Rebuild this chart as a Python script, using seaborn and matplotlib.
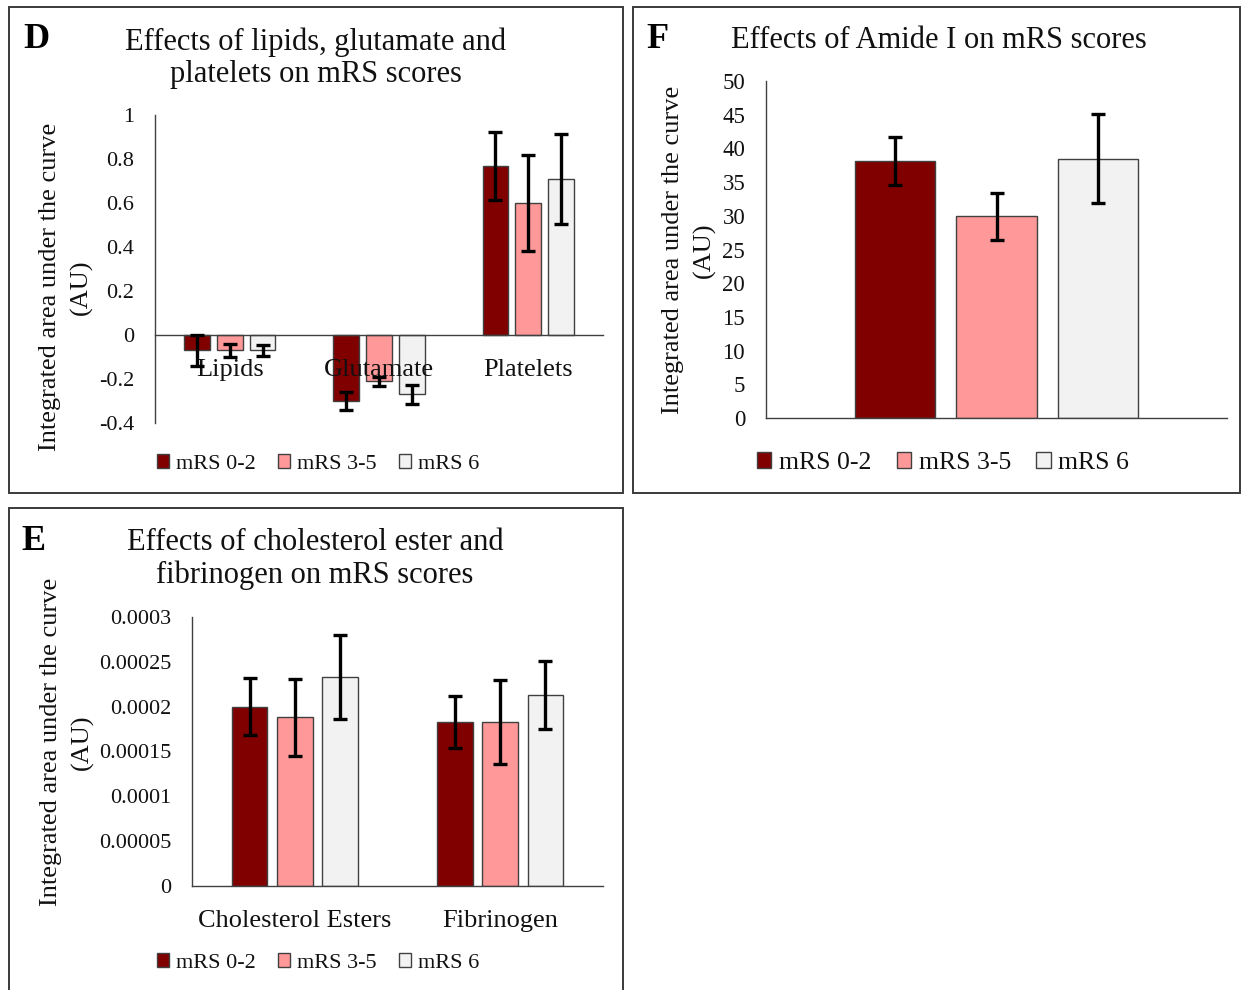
import numpy as np
import pandas as pd
import matplotlib
matplotlib.use("Agg")
import matplotlib.pyplot as plt
import seaborn as sns
from matplotlib.patches import Rectangle, Patch
from matplotlib.ticker import FuncFormatter, MultipleLocator

# ---------------- data ----------------
groups = ["mRS 0-2", "mRS 3-5", "mRS 6"]
group_colors = ["#800000", "#FF9999", "#F2F2F2"]

d_categories = ["Lipids", "Glutamate", "Platelets"]
d_mrs02 = [-0.07, -0.30, 0.77]
d_mrs02_err = [0.07, 0.04, 0.155]
d_mrs35 = [-0.07, -0.21, 0.60]
d_mrs35_err = [0.03, 0.02, 0.22]
d_mrs6 = [-0.07, -0.27, 0.71]
d_mrs6_err = [0.025, 0.045, 0.205]

f_categories = ["Amide I"]
f_mrs02 = [38.1]
f_mrs02_err = [3.6]
f_mrs35 = [29.9]
f_mrs35_err = [3.5]
f_mrs6 = [38.5]
f_mrs6_err = [6.6]

e_categories = ["Cholesterol Esters", "Fibrinogen"]
e_mrs02 = [0.000200, 0.000183]
e_mrs02_err = [0.000032, 0.000029]
e_mrs35 = [0.000188, 0.000183]
e_mrs35_err = [0.000043, 0.000047]
e_mrs6 = [0.000233, 0.000213]
e_mrs6_err = [0.000047, 0.000038]

d_title = "Effects of lipids, glutamate and\nplatelets on mRS scores"
f_title = "Effects of Amide I on mRS scores"
e_title = "Effects of cholesterol ester and\nfibrinogen on mRS scores"
ylabel = "Integrated area under the curve\n(AU)"

# ---------------- style ----------------
sns.set_style("white")
plt.rcParams["font.family"] = ["Liberation Serif", "DejaVu Serif"]
TXT = "#111111"
AXC = "#404040"

W, H = 1241, 990
fig = plt.figure(figsize=(W / 100, H / 100), dpi=100)


def fx(px):
    return px / W


def fy(py):
    return 1 - py / H


def make_df(cats, vals, errs):
    rows = []
    for g, v, e in zip(groups, vals, errs):
        for c, vi, ei in zip(cats, v, e):
            rows.append({"category": c, "group": g, "value": vi, "err": ei})
    return pd.DataFrame(rows)


def draw_panel(rect_px, cats, vals, errs, ylim, step, show_xlabels=True, ytick_size=16):
    l, t, r, b = rect_px
    ax = fig.add_axes([fx(l), fy(b), fx(r - l), (b - t) / H])
    df = make_df(cats, vals, errs)
    sns.barplot(data=df, x="category", y="value", hue="group",
                hue_order=groups, order=cats, palette=group_colors,
                saturation=1, width=0.66, gap=0.21, edgecolor=AXC,
                linewidth=1.0, errorbar=None, legend=False, ax=ax)
    bar_conts = list(ax.containers)
    for gi, cont in enumerate(bar_conts):
        xs = [bar.get_x() + bar.get_width() / 2 for bar in cont]
        ax.errorbar(xs, vals[gi], yerr=errs[gi], fmt="none", ecolor="black",
                    elinewidth=2.4, capsize=5, capthick=2.4, zorder=5)
    ax.set_xlim(-0.5, len(cats) - 0.5)
    ax.set_ylim(*ylim)
    ax.yaxis.set_major_locator(MultipleLocator(step))
    ax.yaxis.set_major_formatter(FuncFormatter(
        lambda v, p: ("%.6f" % round(v, 8)).rstrip("0").rstrip(".") if abs(v) > 1e-12 else "0"))
    ax.set_xlabel("")
    ax.set_ylabel("")
    for s in ["top", "right"]:
        ax.spines[s].set_visible(False)
    ax.spines["left"].set_color(AXC)
    ax.spines["left"].set_linewidth(1.0)
    ax.spines["bottom"].set_color(AXC)
    ax.spines["bottom"].set_linewidth(1.0)
    ax.spines["bottom"].set_position(("data", 0))
    ax.set_axisbelow(False)
    ax.tick_params(axis="y", length=0, pad=15, labelsize=ytick_size, labelcolor=TXT)
    ax.tick_params(axis="x", length=0, pad=17, labelsize=19, labelcolor=TXT)
    if not show_xlabels:
        ax.set_xticklabels([""] * len(cats))
    ax.grid(False)
    ax.set_facecolor("none")
    return ax


# panel boxes
for (l, t, r, b) in [(9, 7, 623, 493), (633, 7, 1240, 493), (9, 508, 623, 1000)]:
    fig.patches.append(Rectangle((fx(l), fy(b)), fx(r - l), (b - t) / H,
                                 transform=fig.transFigure, fill=False,
                                 edgecolor="#3a3a3a", linewidth=1.4))

# Panel D
axD = draw_panel((155, 115, 603, 423), d_categories,
                 [d_mrs02, d_mrs35, d_mrs6], [d_mrs02_err, d_mrs35_err, d_mrs6_err],
                 (-0.4, 1.0), 0.2)
# Panel F
axF = draw_panel((766, 81, 1227, 418), f_categories,
                 [f_mrs02, f_mrs35, f_mrs6], [f_mrs02_err, f_mrs35_err, f_mrs6_err],
                 (0, 50), 5, show_xlabels=False, ytick_size=16.5)
# Panel E
axE = draw_panel((192, 617, 603, 886), e_categories,
                 [e_mrs02, e_mrs35, e_mrs6], [e_mrs02_err, e_mrs35_err, e_mrs6_err],
                 (0, 0.0003), 0.00005)

# titles, letters, y labels, legends
fig.text(fx(316), fy(58), d_title, ha="center", va="center", fontsize=22,
         color=TXT, linespacing=1.15)
fig.text(fx(939), fy(40), f_title, ha="center", va="center", fontsize=22, color=TXT)
fig.text(fx(315), fy(559), e_title, ha="center", va="center", fontsize=22,
         color=TXT, linespacing=1.15)

fig.text(fx(36), fy(40), "D", ha="center", va="center", fontsize=26,
         fontweight="bold", color="black")
fig.text(fx(657), fy(40), "F", ha="center", va="center", fontsize=26,
         fontweight="bold", color="black")
fig.text(fx(34), fy(541), "E", ha="center", va="center", fontsize=26,
         fontweight="bold", color="black")

for (x, y) in [(66, 287), (689, 250), (67, 742)]:
    fig.text(fx(x), fy(y), ylabel, ha="center", va="center", rotation=90,
             fontsize=19, color=TXT, linespacing=1.5, multialignment="center")

handles = [Patch(facecolor=c, edgecolor=AXC, linewidth=1.0) for c in group_colors]
for (x, y, fs) in [(318, 464, 16), (943, 463, 18.5), (318, 963, 16)]:
    fig.legend(handles, groups, loc="center", bbox_to_anchor=(fx(x), fy(y)),
               bbox_transform=fig.transFigure, ncol=3, frameon=False,
               fontsize=fs, handlelength=0.55, handleheight=0.55,
               handletextpad=0.3, columnspacing=1.0, labelcolor=TXT,
               borderaxespad=0, borderpad=0)

fig.savefig("out.png", dpi=100, facecolor="white")
